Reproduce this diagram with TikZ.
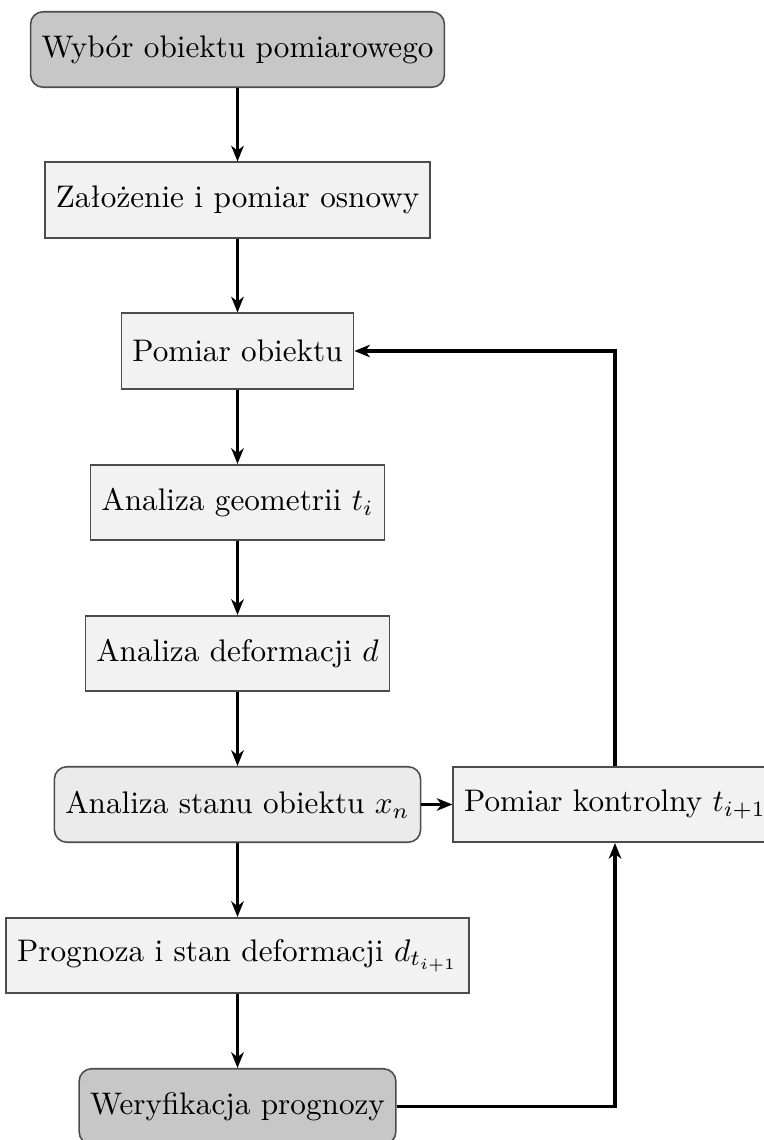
\documentclass[tikz,border=0pt]{standalone}
\usepackage{fontspec}
\usetikzlibrary{arrows.meta}
\begin{document}
\begin{tikzpicture}[x=0.3205pt,y=-0.3205pt,
  box/.style={draw=black!70, line width=0.5pt, minimum height=24.2pt, inner xsep=3.5pt, inner ysep=0pt, anchor=center},
  light/.style={box, fill=black!5},
  stateb/.style={box, fill=black!8, rounded corners=4pt},
  dark/.style={box, fill=black!22, rounded corners=4pt},
  arr/.style={line width=1.2pt, -{Stealth[length=5pt,width=4pt,inset=1.5pt]}}]
\clip (0,0) rectangle (764,1140);
\node[dark]  (b1) at (237.5,49.5)  {Wybór obiektu pomiarowego};
\node[light] (b2) at (237.5,200)   {Założenie i pomiar osnowy};
\node[light] (b3) at (237.5,351)   {Pomiar obiektu};
\node[light] (b4) at (237.5,502.5) {Analiza geometrii $t_i$};
\node[light] (b5) at (237.5,653.5) {Analiza deformacji $d$};
\node[stateb] (b6) at (237.5,804.5) {Analiza stanu obiektu $x_n$};
\node[light] (b7) at (237.5,955.5) {Prognoza i stan deformacji $d_{t_{i+1}}$};
\node[dark]  (b8) at (237.5,1106.5) {Weryfikacja prognozy};
\node[light] (r)  at (615,804.5)   {Pomiar kontrolny $t_{i+1}$};
\draw[arr] (b1) -- (b2);
\draw[arr] (b2) -- (b3);
\draw[arr] (b3) -- (b4);
\draw[arr] (b4) -- (b5);
\draw[arr] (b5) -- (b6);
\draw[arr] (b6) -- (b7);
\draw[arr] (b7) -- (b8);
\draw[arr] (b6) -- (r);
\draw[arr] (b8.east) -| (r.south);
\draw[arr] (r.north) |- (b3.east);
\end{tikzpicture}
\end{document}
